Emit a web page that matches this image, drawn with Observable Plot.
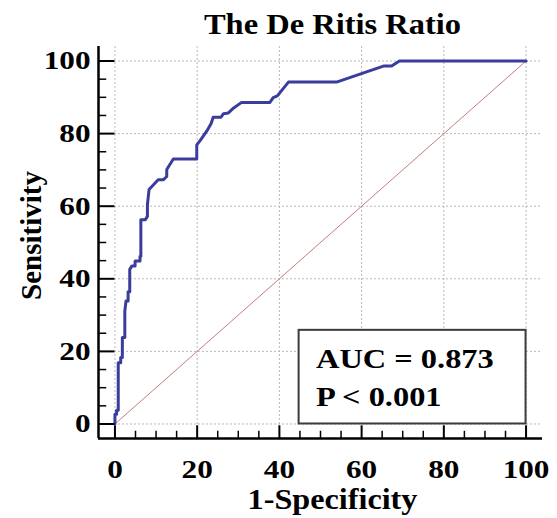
<!DOCTYPE html>
<html>
<head>
<meta charset="utf-8">
<script src="https://cdn.jsdelivr.net/npm/d3@7"></script>
<script src="https://cdn.jsdelivr.net/npm/@observablehq/plot@0.6"></script>
<style>
  html, body { margin: 0; padding: 0; background: #fff; }
  #chart svg { display: block; }
</style>
</head>
<body>
<div id="chart"></div>
<script>
// ROC curve (1-Specificity %, Sensitivity %)
const fpr = [0,0,0.4,0.4,0.8,0.8,1.4,1.4,1.8,1.8,2.4,2.4,2.7,3.2,3.2,3.6,3.6,4.1,4.9,4.9,6.1,6.1,6.3,6.3,7.4,7.9,7.9,8.3,10.5,11.8,12.6,12.6,14.2,19.9,19.9,20.8,22.4,23.4,23.9,25.8,26.4,27.6,28.8,30.8,37.7,38.5,39.5,42.2,53.9,65.3,67.3,69.2,100];
const tpr = [0,2.7,2.7,3.8,3.8,16.9,16.9,18.3,18.3,23.8,23.8,31.1,33.9,33.9,36.4,36.4,42.6,43.5,43.5,44.9,44.9,46.2,46.2,56.3,56.3,57.2,60.4,64.6,67.3,67.3,68.2,70.1,73,73,76.9,78.2,80.8,82.8,84.5,84.5,85.5,85.7,87,88.6,88.6,89.9,90.4,94.2,94.2,98.6,98.6,100,100];
const diagX = [0, 100];
const diagY = [0, 100];
const majorTicks = [0, 20, 40, 60, 80, 100];
const minorTicks = [5, 10, 15, 25, 30, 35, 45, 50, 55, 65, 70, 75, 85, 90, 95];
const title = "The De Ritis Ratio";
const xLabel = "1-Specificity";
const yLabel = "Sensitivity";
const statLines = ["AUC = 0.873", "P < 0.001"];
const statY = [17.9, 7.4];
// annotation box, in data units
const statBox = [{x1: 44.8, x2: 100, y1: 0, y2: 25.8}];

const roc = fpr.map((x, i) => ({x, y: tpr[i]}));
const diag = diagX.map((x, i) => ({x, y: diagY[i]}));
const stats = statLines.map((t, i) => ({t, y: statY[i]}));

const serif = "'Liberation Serif', 'Times New Roman', Times, serif";

const chart = Plot.plot({
  width: 557,
  height: 518,
  marginLeft: 98,
  marginRight: 15,
  marginTop: 46,
  marginBottom: 80,
  style: {fontFamily: serif, fontWeight: "bold", color: "#000", background: "#fff"},
  x: {domain: [-4, 104]},
  y: {domain: [-4, 104]},
  marks: [
    Plot.gridX(majorTicks, {stroke: "#b8b8b8", strokeOpacity: 1, strokeDasharray: "2,2"}),
    Plot.gridY(majorTicks, {stroke: "#b8b8b8", strokeOpacity: 1, strokeDasharray: "2,2"}),
    Plot.line(diag, {x: "x", y: "y", stroke: "#c27f7f", strokeWidth: 1}),
    Plot.line(roc, {x: "x", y: "y", stroke: "#3a3d9c", strokeWidth: 3, strokeLinejoin: "round", strokeLinecap: "round"}),
    Plot.rect(statBox, {x1: "x1", x2: "x2", y1: "y1", y2: "y2", fill: "#fff", stroke: "#3c3c3c", strokeWidth: 2}),
    Plot.text(stats, {x: 48.9, y: "y", text: "t", textAnchor: "start", lineAnchor: "middle", fontSize: 27, fontWeight: "bold", fill: "#000", ariaDescription: "stat"}),
    // axis lines
    Plot.ruleX([-4], {stroke: "#000", strokeWidth: 2.5}),
    Plot.ruleY([-4], {stroke: "#000", strokeWidth: 2.5}),
    // inward ticks
    Plot.ruleY(majorTicks, {x1: -4, x2: 0, stroke: "#000", strokeWidth: 2}),
    Plot.ruleY(minorTicks, {x1: -4, x2: -2, stroke: "#000", strokeWidth: 1.5}),
    Plot.ruleX(majorTicks, {y1: -4, y2: -0.5, stroke: "#000", strokeWidth: 2}),
    Plot.ruleX(minorTicks, {y1: -4, y2: -2, stroke: "#000", strokeWidth: 1.5}),
    Plot.axisY(majorTicks, {tickSize: 0, tickPadding: 8, fontSize: 26, label: null}),
    Plot.axisX(majorTicks, {tickSize: 0, tickPadding: 21, fontSize: 26, label: null}),
    Plot.text([title], {text: d => d, frameAnchor: "top", textAnchor: "middle", lineAnchor: "middle", dx: 12, dy: -22, fontSize: 29, fontWeight: "bold", fill: "#000", ariaDescription: "title"}),
    Plot.text([xLabel], {text: d => d, frameAnchor: "bottom", textAnchor: "middle", lineAnchor: "middle", dx: 12, dy: 61, fontSize: 29, fontWeight: "bold", fill: "#000", ariaDescription: "xlabel"}),
    Plot.text([yLabel], {text: d => d, frameAnchor: "left", textAnchor: "middle", lineAnchor: "middle", rotate: -90, dx: -67, dy: -7, fontSize: 29, fontWeight: "bold", fill: "#000", ariaDescription: "ylabel"})
  ]
});

document.getElementById("chart").appendChild(chart);

// widen glyphs horizontally as in the reference rendering
function stretchTexts(nodes, k) {
  nodes.forEach(t => {
    const w = t.getComputedTextLength();
    if (w > 0) {
      t.setAttribute("textLength", (w * k).toFixed(1));
      t.setAttribute("lengthAdjust", "spacingAndGlyphs");
    }
  });
}
const byLabel = l => chart.querySelectorAll(`g[aria-label="${l}"] text`);
const byDesc = l => chart.querySelectorAll(`g[aria-description="${l}"] text`);
stretchTexts(byLabel("y-axis tick label"), 1.2);
stretchTexts(byLabel("x-axis tick label"), 1.2);
stretchTexts(byDesc("stat"), 1.2);
stretchTexts(byDesc("title"), 1.12);
stretchTexts(byDesc("xlabel"), 1.11);
</script>
</body>
</html>
